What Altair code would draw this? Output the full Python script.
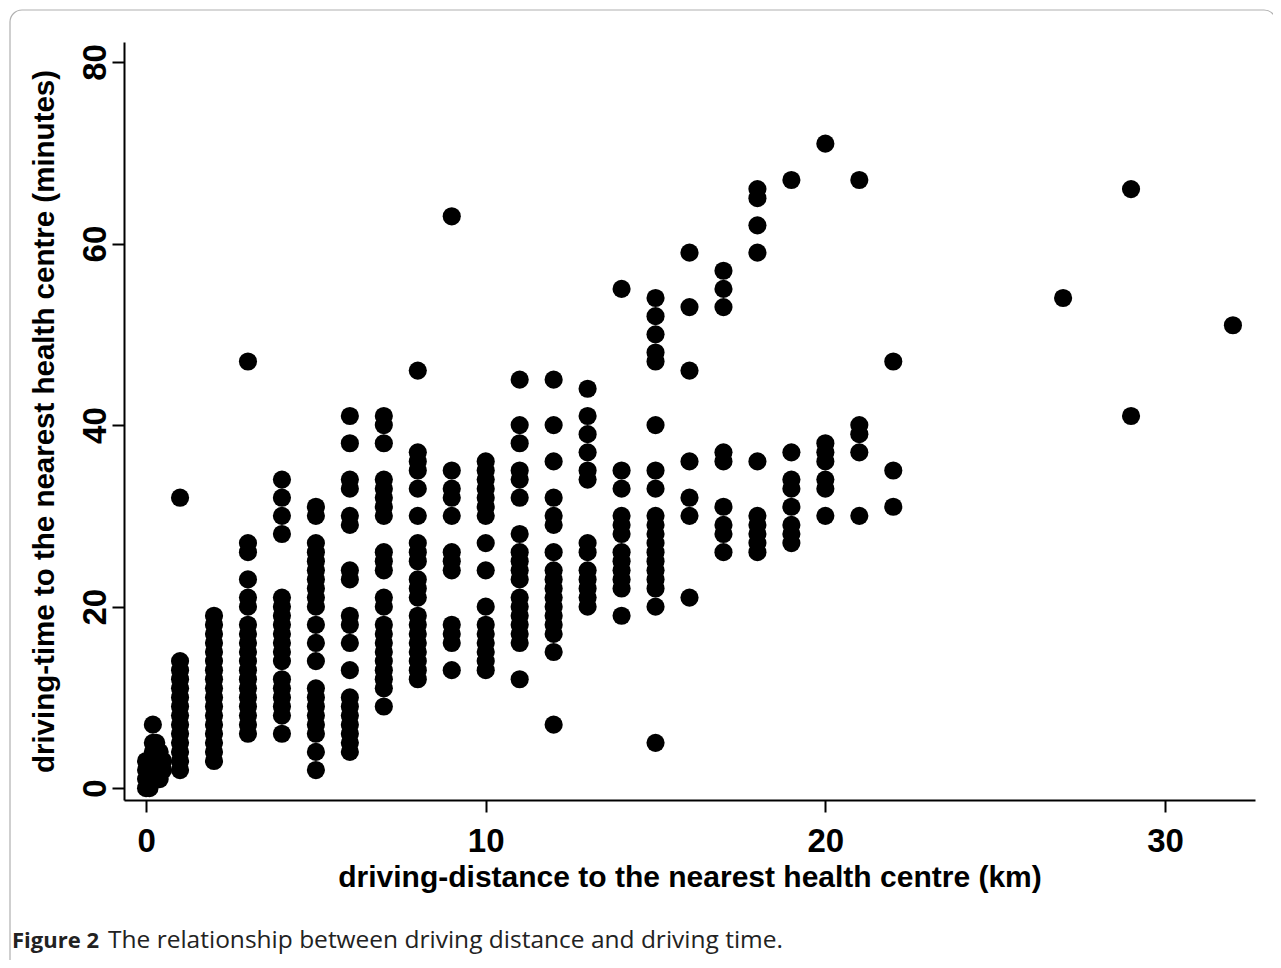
import altair as alt
import pandas as pd

col_x = [1, 2, 3, 4, 5, 6, 7, 8, 9, 10, 11, 12, 13, 14, 15, 16, 17, 18, 19, 20, 21, 22, 27, 29, 32]
col_y = [
    [2, 3, 4, 5, 6, 7, 8, 9, 10, 11, 12, 13, 14, 32],
    [3, 4, 5, 6, 7, 8, 9, 10, 11, 12, 13, 14, 15, 16, 17, 18, 19],
    [6, 7, 8, 9, 10, 11, 12, 13, 14, 15, 16, 17, 18, 20, 21, 23, 26, 27, 47],
    [6, 8, 9, 10, 11, 12, 14, 15, 16, 17, 18, 19, 20, 21, 28, 30, 32, 34],
    [2, 4, 6, 7, 8, 9, 10, 11, 14, 16, 18, 20, 21, 22, 23, 24, 25, 26, 27, 30, 31],
    [4, 5, 6, 7, 8, 9, 10, 13, 16, 18, 19, 23, 24, 29, 30, 33, 34, 38, 41],
    [9, 11, 12, 13, 14, 15, 16, 17, 18, 20, 21, 24, 25, 26, 30, 31, 32, 33, 34, 38, 40, 41],
    [12, 13, 14, 15, 16, 17, 18, 19, 21, 22, 23, 25, 26, 27, 30, 33, 35, 36, 37, 46],
    [13, 16, 17, 18, 24, 25, 26, 30, 32, 33, 35, 63],
    [13, 14, 15, 16, 17, 18, 20, 24, 27, 30, 31, 32, 33, 34, 35, 36],
    [12, 16, 17, 18, 19, 20, 21, 23, 24, 25, 26, 28, 32, 34, 35, 38, 40, 45],
    [7, 15, 17, 18, 19, 20, 21, 22, 23, 24, 26, 29, 30, 32, 36, 40, 45],
    [20, 21, 22, 23, 24, 26, 27, 34, 35, 37, 39, 41, 44],
    [19, 22, 23, 24, 25, 26, 28, 29, 30, 33, 35, 55],
    [5, 20, 22, 23, 24, 25, 26, 27, 28, 29, 30, 33, 35, 40, 47, 48, 50, 52, 54],
    [21, 30, 32, 36, 46, 53, 59],
    [26, 28, 29, 31, 36, 37, 53, 55, 57],
    [26, 27, 28, 29, 30, 36, 59, 62, 65, 66],
    [27, 28, 29, 31, 33, 34, 37, 67],
    [30, 33, 34, 36, 37, 38, 71],
    [30, 37, 39, 40, 67],
    [31, 35, 47],
    [54],
    [41, 66],
    [51],
]
# very short distances (below 1 km)
near_x = [0, 0, 0, 0, 0.1, 0.1, 0.1, 0.2, 0.2, 0.2, 0.2, 0.2, 0.2, 0.3, 0.3, 0.3, 0.3, 0.4, 0.4, 0.4, 0.4, 0.5, 0.5]
near_y = [0, 1, 2, 3, 0, 1, 2, 1, 2, 3, 4, 5, 7, 2, 3, 4, 5, 1, 2, 3, 4, 2, 3]

x_ticks = [0, 10, 20, 30]
y_ticks = [0, 20, 40, 60, 80]
x_title = "driving-distance to the nearest health centre (km)"
y_title = "driving-time to the nearest health centre (minutes)"
caption_bold = "Figure 2"
caption_text = "The relationship between driving distance and driving time."

rows = [{"dist": x, "time": y} for x, ys in zip(col_x, col_y) for y in ys]
rows += [{"dist": x, "time": y} for x, y in zip(near_x, near_y)]
df = pd.DataFrame(rows)

FONT = "Liberation Sans Narrow, Liberation Sans, Arial, sans-serif"

W, H = 1131, 758

points = alt.Chart(df).mark_circle(size=330, color="black", opacity=1).encode(
    x=alt.X("dist:Q",
            scale=alt.Scale(domain=[-0.65, 32.65], nice=False, zero=False),
            axis=alt.Axis(values=x_ticks, title=x_title, labelFontSize=33,
                          labelPadding=13, titleFontSize=30, titlePadding=4)),
    y=alt.Y("time:Q",
            scale=alt.Scale(domain=[-1.3, 82.2], nice=False, zero=False),
            axis=alt.Axis(values=y_ticks, title=y_title, labelFontSize=33,
                          labelAngle=-90, labelAlign="center", labelBaseline="bottom",
                          labelPadding=0, titleFontSize=29.5, titlePadding=20)),
)

frame = alt.Chart(pd.DataFrame({"a": [0]})).mark_rect(
    fill=None, stroke="#b0b0b0", strokeWidth=1.2, cornerRadius=12
).encode(x=alt.value(-114), x2=alt.value(1152), y=alt.value(-32), y2=alt.value(960))

cap1 = alt.Chart(pd.DataFrame({"t": [caption_bold]})).mark_text(
    align="left", baseline="middle", font="Open Sans", fontSize=22, fontWeight="bold", color="#222"
).encode(x=alt.value(-112), y=alt.value(899), text="t:N")

cap2 = alt.Chart(pd.DataFrame({"t": [caption_text]})).mark_text(
    align="left", baseline="middle", font="Open Sans", fontSize=24.5, color="#222"
).encode(x=alt.value(-16), y=alt.value(899), text="t:N")

chart = alt.layer(frame, points, cap1, cap2).properties(
    width=W, height=H,
    autosize=alt.AutoSizeParams(type="none"),
    padding={"left": 116, "top": 34, "right": 18, "bottom": 160},
).configure_axis(
    grid=False, domainColor="black", domainWidth=2, tickColor="black", tickWidth=2,
    tickSize=12, labelColor="black", titleColor="black", labelFont=FONT, titleFont=FONT,
    labelFontWeight="bold", titleFontWeight="bold",
).configure_view(stroke=None)

chart.save("out.html", embed_options={"renderer": "svg", "actions": False})
